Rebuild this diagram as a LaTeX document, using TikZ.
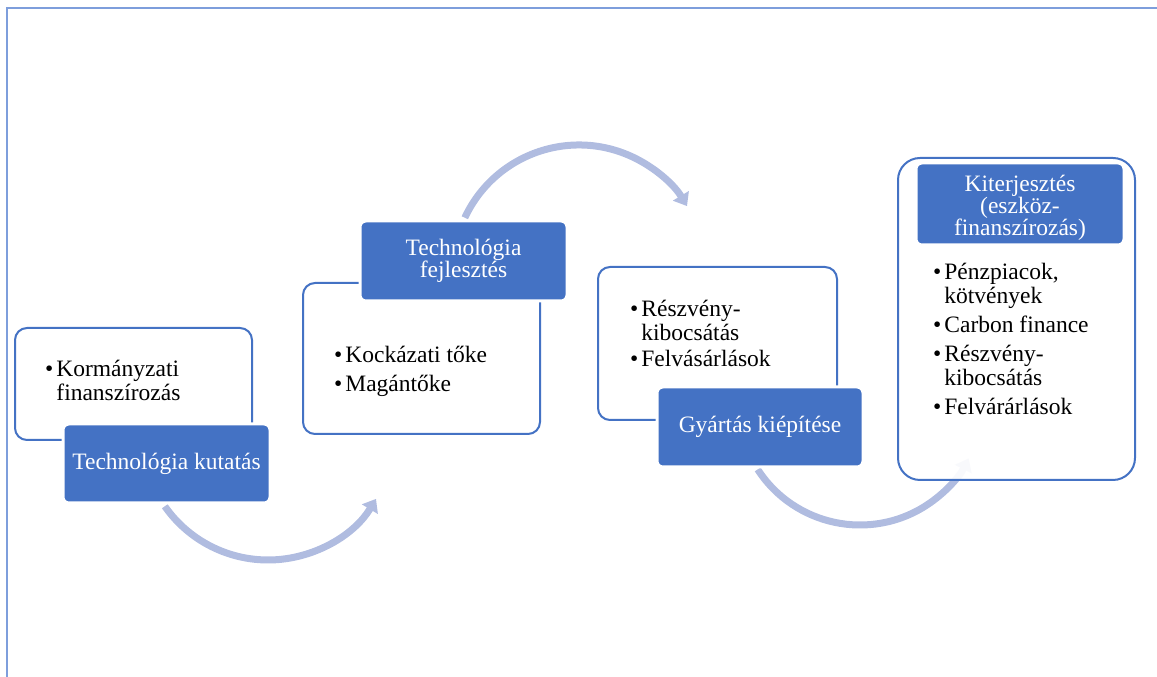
\documentclass[tikz,border=0pt]{standalone}
\usepackage{fontspec}
\setmainfont{Liberation Serif}
\usetikzlibrary{arrows.meta}
\definecolor{sablue}{HTML}{4472C4}
\definecolor{flowc}{HTML}{B0BCE0}
\definecolor{framec}{HTML}{7E9EDC}
\tikzset{
  whitebox/.style={draw=sablue, line width=2pt, fill=white, rounded corners=12pt, minimum width=#1},
  bluebox/.style={draw=white, line width=3pt, fill=sablue, rounded corners=6pt, text=white, align=center, inner sep=0pt},
  btext/.style={inner sep=0pt, anchor=base west, font=\fontsize{23.5}{24}\selectfont},
  flow/.style={draw=flowc, line width=7pt, -{Triangle[length=12pt,width=18pt]}},
}
\newcommand{\bul}{\textbullet}
\begin{document}
\begin{tikzpicture}[x=1pt,y=1pt]
\useasboundingbox (0,0) rectangle (1157,677);
% frame
\draw[framec, line width=1.5pt] (7,0) -- (7,669) -- (1157,669);
% arc centres
\coordinate (c1) at (268,243);
\coordinate (c2) at (579,406);
\coordinate (c3) at (860,274);
\coordinate (a1s) at ([shift={(215:126)}]c1);
\coordinate (a2s) at ([shift={(155:126)}]c2);
\coordinate (a3s) at ([shift={(213:122)}]c3);
% arrows
\draw[flow] (a1s) arc[start angle=215, end angle=329, radius=126];
\draw[flow] (a2s) arc[start angle=155, end angle=31, radius=126];
\draw[flow] (a3s) arc[start angle=213, end angle=333, radius=122];
% white boxes
\node[whitebox=237pt, minimum height=112pt] (w1) at (133.5,293) {};
\node[whitebox=237pt, minimum height=151pt] (w2) at (421.5,318.5) {};
\node[whitebox=239pt, minimum height=153pt] (w3) at (717.5,333.5) {};
\node[whitebox=237pt, minimum height=322pt, rounded corners=22pt, fill opacity=0.92] (w4) at (1016.5,358) {};
% blue boxes
\node[bluebox, minimum width=207pt, minimum height=79pt] (b1) at (166.5,213.5) {\fontsize{23.5}{24}\selectfont Technológia kutatás};
\node[bluebox, minimum width=207pt, minimum height=80pt] (b2) at (463.5,416) {\fontsize{23.5}{24}\selectfont Technológia\\\fontsize{23.5}{24}\selectfont fejlesztés};
\node[bluebox, minimum width=206pt, minimum height=80pt] (b3) at (760,250) {\fontsize{23.5}{24}\selectfont Gyártás kiépítése};
\node[bluebox, minimum width=208pt, minimum height=82pt] (b4) at (1020,473) {\fontsize{23.5}{24}\selectfont\rule{0pt}{24pt}Kiterjesztés\\\fontsize{23.5}{24}\selectfont (eszköz-\\\fontsize{23.5}{24}\selectfont finanszírozás)};
% bullet texts
\node[btext] (t1) at (45,300) {\begin{tabular}[t]{@{}l@{\hspace{3pt}}l@{}}\bul & Kormányzati\\ & finanszírozás\end{tabular}};
\node[btext] (t2) at (334,314) {\begin{tabular}[t]{@{}l@{\hspace{3pt}}l@{}}\bul & Kockázati tőke\\[5pt] \bul & Magántőke\end{tabular}};
\node[btext] (t3) at (630,360) {\begin{tabular}[t]{@{}l@{\hspace{3pt}}l@{}}\bul & Részvény-\\ & kibocsátás\\[2pt] \bul & Felvásárlások\end{tabular}};
\node[btext] (t4) at (933,397) {\begin{tabular}[t]{@{}l@{\hspace{3pt}}l@{}}\bul & Pénzpiacok,\\ & kötvények\\[5pt] \bul & Carbon finance\\[5pt] \bul & Részvény-\\ & kibocsátás\\[5pt] \bul & Felvárárlások\end{tabular}};
\end{tikzpicture}
\end{document}
